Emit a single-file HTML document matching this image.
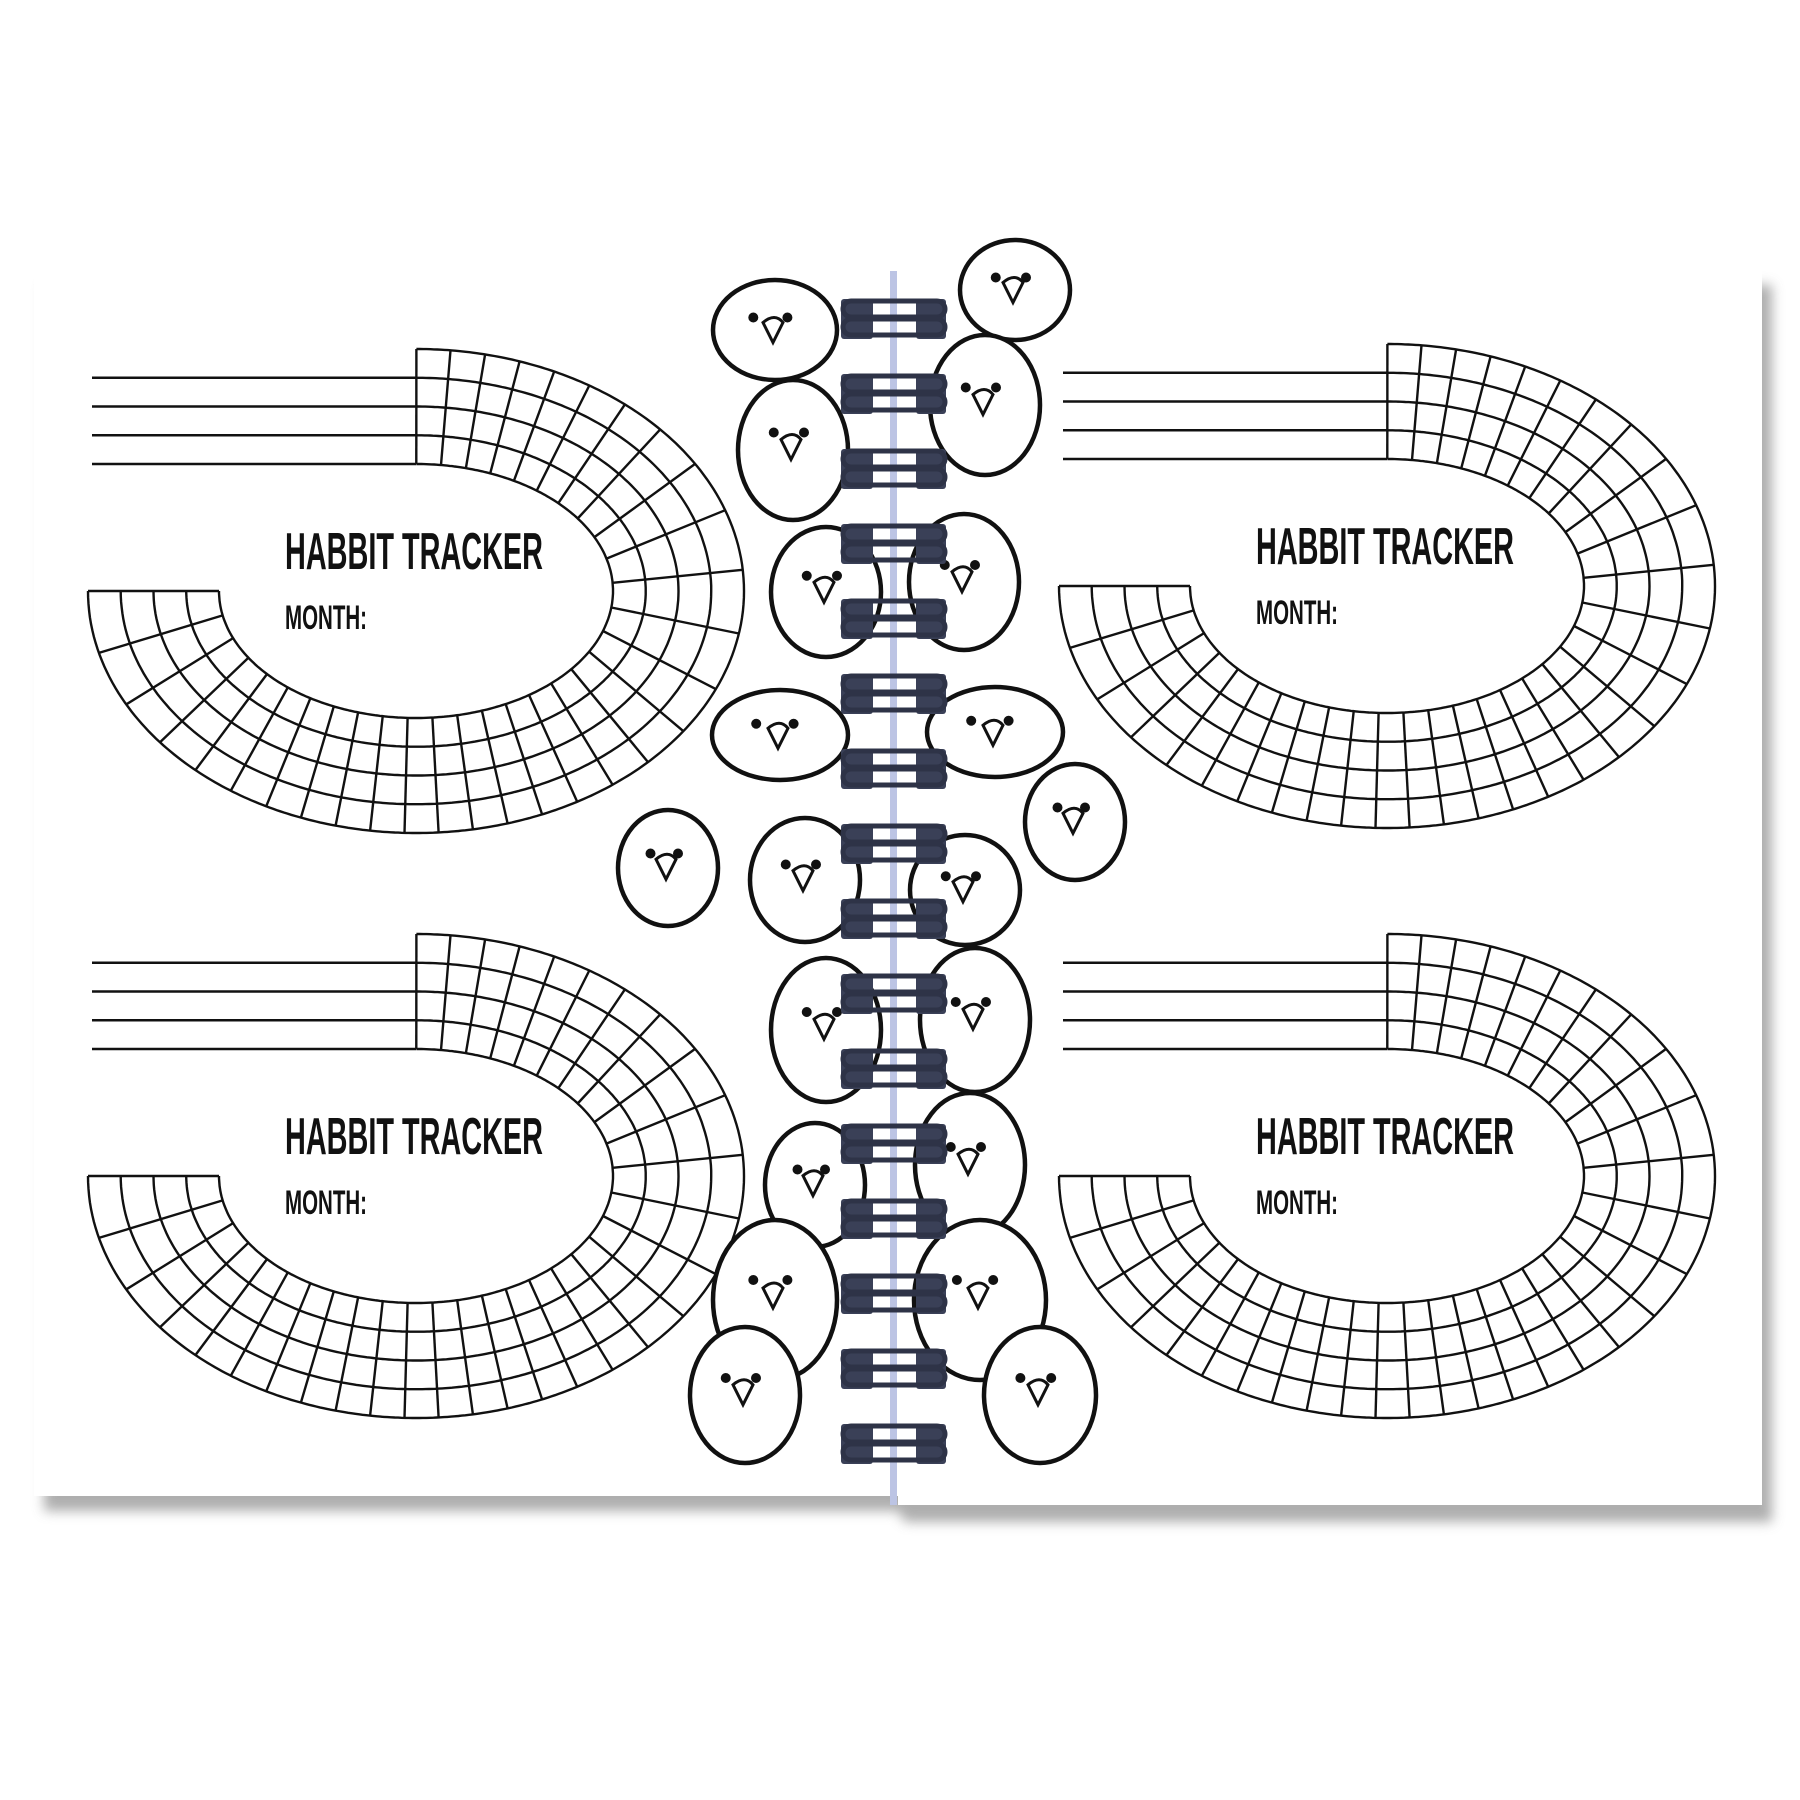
<!DOCTYPE html>
<html><head><meta charset="utf-8"><style>
html,body{margin:0;padding:0;background:#fff;width:1800px;height:1800px;overflow:hidden}
svg{display:block}
.t{font-family:"Liberation Sans Narrow","Liberation Sans",sans-serif;font-weight:bold}
</style></head><body>
<svg id="s" width="1800" height="1800" viewBox="0 0 1800 1800" xmlns="http://www.w3.org/2000/svg">
<defs>
<filter id="sh" x="-5%" y="-5%" width="110%" height="115%"><feGaussianBlur stdDeviation="6"/></filter>
</defs>
<rect x="0" y="0" width="1800" height="1800" fill="#fff"/>
<path d="M44 285 L1772 285 L1772 1522 L905 1522 L898 1511 L44 1511 Z" fill="#9a9a9a" filter="url(#sh)" opacity="0.8"/>
<path d="M34 271 L1762 271 L1762 1505 L898 1505 L898 1496 L34 1496 Z" fill="#fff"/>
<rect x="890" y="271" width="7" height="1234" fill="#bcc4e4"/>
<g id="trk" fill="none" stroke="#111" stroke-width="2.4"></g>
<g id="birds" fill="#fff" stroke="#111" stroke-width="4.5"></g>
<g id="coils"></g>
<g id="txt"></g>
</svg>
<script>
(function(){
var NS="http://www.w3.org/2000/svg";
function el(n,a,p){var e=document.createElementNS(NS,n);for(var k in a)e.setAttribute(k,a[k]);p.appendChild(e);return e;}
var trk=document.getElementById('trk'),txt=document.getElementById('txt');
var a=197,b=127,A=328,B=242,N=31;
var M=3000,phis=[],lens=[0],L=0,prev=null;
for(var i=0;i<=M;i++){var ph=1.5*Math.PI*i/M;var p=[a*Math.sin(ph),-b*Math.cos(ph)];if(prev){L+=Math.hypot(p[0]-prev[0],p[1]-prev[1]);lens.push(L);}phis.push(ph);prev=p;}
function phiAt(s){var lo=0,hi=M;while(hi-lo>1){var m=(lo+hi)>>1;if(lens[m]<s)lo=m;else hi=m;}return phis[hi];}
function pt(ph,k){var P=[a*Math.sin(ph),-b*Math.cos(ph)];var n=[P[0]/(a*a),P[1]/(b*b)];var nl=Math.hypot(n[0],n[1]);n=[n[0]/nl,n[1]/nl];
 var qa=n[0]*n[0]/(A*A)+n[1]*n[1]/(B*B),qb=2*(P[0]*n[0]/(A*A)+P[1]*n[1]/(B*B)),qc=P[0]*P[0]/(A*A)+P[1]*P[1]/(B*B)-1;
 var s=(-qb+Math.sqrt(qb*qb-4*qa*qc))/(2*qa);var f=s*k/4;return [P[0]+f*n[0],P[1]+f*n[1]];}
function tracker(cx,cy){
 var g=el('g',{transform:'translate('+cx+','+cy+')'},trk);
 for(var k=0;k<=4;k++){var d='';for(var i=0;i<=300;i++){var q=pt(phiAt(L*i/300),k);d+=(i?'L':'M')+q[0].toFixed(1)+' '+q[1].toFixed(1);}el('path',{d:d},g);}
 for(var j=0;j<=N;j++){var ph=phiAt(L*j/N);var p0=pt(ph,0),p1=pt(ph,4);el('line',{x1:p0[0].toFixed(1),y1:p0[1].toFixed(1),x2:p1[0].toFixed(1),y2:p1[1].toFixed(1)},g);}
 for(var k=0;k<4;k++){var y=-b-k*(B-b)/4;el('line',{x1:-324,y1:y,x2:0,y2:y},g);}
 var t=el('text',{x:cx-131,y:cy-22,'font-size':52,'class':'t',textLength:258,lengthAdjust:'spacingAndGlyphs',fill:'#111'},txt);t.textContent='HABBIT TRACKER';
 var m=el('text',{x:cx-131,y:cy+38,'font-size':34,'class':'t',textLength:82,lengthAdjust:'spacingAndGlyphs',fill:'#111'},txt);m.textContent='MONTH:';
}
tracker(416,591);tracker(1387,586);tracker(416,1176);tracker(1387,1176);
var Bd=document.getElementById('birds');
var birds=[[1015,290,55,50],[775,330,62,50],[793,450,55,70],[985,405,55,70],[826,592,55,65],[964,582,55,68],[780,735,68,45],[995,732,68,45],[668,868,50,58],[1075,822,50,58],[805,880,55,62],[965,890,55,55],[826,1030,55,72],[975,1020,55,72],[815,1185,50,62],[970,1165,55,72],[775,1300,62,80],[980,1300,66,80],[745,1395,55,68],[1040,1395,56,68]];
birds.forEach(function(o){el('ellipse',{cx:o[0],cy:o[1],rx:o[2],ry:o[3]},Bd);});
birds.forEach(function(o){el('circle',{cx:o[0]-o[2]*0.35,cy:o[1]-o[3]*0.25,r:5,fill:'#111',stroke:'none'},Bd);el('circle',{cx:o[0]+o[2]*0.2,cy:o[1]-o[3]*0.25,r:5,fill:'#111',stroke:'none'},Bd);
 el('path',{d:'M'+(o[0]-12)+' '+(o[1]-o[3]*0.15)+' q12 -10 20 0 l-10 20 z','stroke-width':3},Bd);});
var C=document.getElementById('coils');
for(var i=0;i<16;i++){var y=299+i*75;
 el('rect',{x:841,y:y,width:32,height:40,fill:'#3a4057',rx:3},C);
 el('rect',{x:916,y:y,width:30,height:40,fill:'#3a4057',rx:3},C);
 el('rect',{x:843,y:y+2,width:102,height:16,rx:8,fill:'none',stroke:'#2e3347','stroke-width':5},C);
 el('rect',{x:843,y:y+20,width:102,height:16,rx:8,fill:'none',stroke:'#2e3347','stroke-width':5},C);
}
})();
</script>
</body></html>
